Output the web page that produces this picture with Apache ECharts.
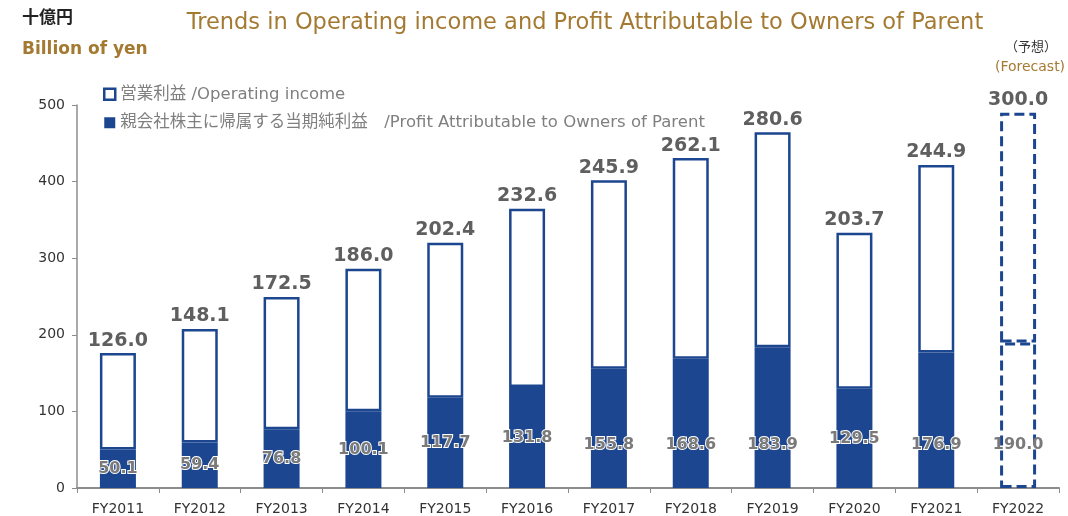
<!DOCTYPE html>
<html>
<head>
<meta charset="utf-8">
<script src="https://cdn.jsdelivr.net/npm/echarts@6/dist/echarts.min.js"></script>
<style>html,body{margin:0;padding:0;background:#fff}#c{width:1068px;height:516px}</style>
</head>
<body>
<div id="c"></div>
<script>
var categories = ['FY2011','FY2012','FY2013','FY2014','FY2015','FY2016','FY2017','FY2018','FY2019','FY2020','FY2021','FY2022'];
var operatingIncome = [126.0,148.1,172.5,186.0,202.4,232.6,245.9,262.1,280.6,203.7,244.9,300.0];
var profitParent = [50.1,59.4,76.8,100.1,117.7,131.8,155.8,168.6,183.9,129.5,176.9,190.0];
var yTicks = [0,100,200,300,400,500];
var forecastIndex = 11;

var BLUE = '#1d4690';
var GOLD = '#a47a32';
var FONT = 'DejaVu Sans, Verdana, sans-serif';
var JFONT = '"DejaVu Sans", "Noto Sans CJK JP", sans-serif';

var profitData = profitParent.map(function (v, i) {
  var item = { value: v };
  var lbl = { position: v < 140 ? 'inside' : 'insideBottom', distance: 35 };
  if (i === forecastIndex) {
    item.itemStyle = { color: '#fff', borderColor: BLUE, borderWidth: 3, borderType: [10, 5] };
    lbl.textBorderWidth = 0;
  }
  item.label = lbl;
  return item;
});
var opData = operatingIncome.map(function (v, i) {
  var item = { value: v };
  if (i === forecastIndex) {
    item.itemStyle = { color: '#fff', borderColor: BLUE, borderWidth: 3, borderType: [10, 5] };
  }
  return item;
});

var chart = echarts.init(document.getElementById('c'), null, { renderer: 'canvas' });
chart.setOption({
  animation: false,
  backgroundColor: '#fff',
  title: {
    text: 'Trends in Operating income and Profit Attributable to Owners of Parent',
    left: 580, top: 7, textAlign: 'center',
    textStyle: { color: GOLD, fontSize: 22.5, fontWeight: 'normal', fontFamily: FONT }
  },
  legend: {
    orient: 'vertical', left: 98, top: 81, itemGap: 12,
    itemWidth: 11, itemHeight: 11, itemStyle: { borderWidth: 2 },
    textStyle: { color: '#7f7f7f', fontSize: 16.5, fontFamily: JFONT },
    data: [
      { name: '営業利益 /Operating income', icon: 'rect', itemStyle: { color: '#fff', borderColor: BLUE, borderWidth: 2.5 } },
      { name: '親会社株主に帰属する当期純利益　/Profit Attributable to Owners of Parent', icon: 'rect', itemStyle: { color: BLUE, borderWidth: 0 } }
    ]
  },
  grid: { left: 77, right: 9, top: 105, bottom: 28 },
  xAxis: {
    type: 'category', data: categories,
    axisLine: { lineStyle: { color: '#8c8c8c', width: 2 } },
    axisTick: { show: true, alignWithLabel: false, length: 5, lineStyle: { color: '#8c8c8c' } },
    axisLabel: { color: '#333', fontSize: 14, fontFamily: FONT, margin: 14 }
  },
  yAxis: {
    type: 'value', min: 0, max: 500, interval: 100,
    axisLine: { show: true, lineStyle: { color: '#8c8c8c', width: 1.5 } },
    axisTick: { show: true, length: 5, lineStyle: { color: '#8c8c8c' } },
    splitLine: { show: false },
    axisLabel: { color: '#333', fontSize: 14, fontFamily: FONT, margin: 12,
      formatter: function (v) { return yTicks.indexOf(v) >= 0 ? String(v) : ''; } }
  },
  series: [
    {
      name: '親会社株主に帰属する当期純利益　/Profit Attributable to Owners of Parent',
      type: 'bar', stack: 'a', barWidth: 36, data: profitData,
      itemStyle: { color: BLUE },
      label: {
        show: true, color: '#7a7a7a', fontSize: 16, fontWeight: 'bold', fontFamily: FONT,
        textBorderColor: '#fff', textBorderWidth: 2,
        formatter: function (p) { return p.value.toFixed(1); }
      }
    },
    {
      name: '営業利益 /Operating income',
      type: 'bar', stack: 'a', barWidth: 36, data: opData,
      itemStyle: { color: '#fff', borderColor: BLUE, borderWidth: 2.5 },
      label: {
        show: true, position: 'top', distance: 3, color: '#5f5f5f', fontSize: 19, fontWeight: 'bold', fontFamily: FONT,
        formatter: function (p) { return p.value.toFixed(1); }
      }
    }
  ],
  graphic: [
    { type: 'text', left: 22, top: 8, style: { text: '十億円', fill: '#222', font: 'bold 17px "Noto Sans CJK JP", sans-serif' } },
    { type: 'text', left: 22, top: 41, style: { text: 'Billion of yen', fill: GOLD, font: 'bold 17px ' + FONT } },
    { type: 'text', x: 1031, y: 40, style: { text: '（予想）', fill: '#333', font: '13px "Noto Sans CJK JP", sans-serif', align: 'center' } },
    { type: 'text', x: 1030, y: 60, style: { text: '(Forecast)', fill: GOLD, font: '14px ' + FONT, align: 'center' } }
  ]
});
</script>
</body>
</html>
